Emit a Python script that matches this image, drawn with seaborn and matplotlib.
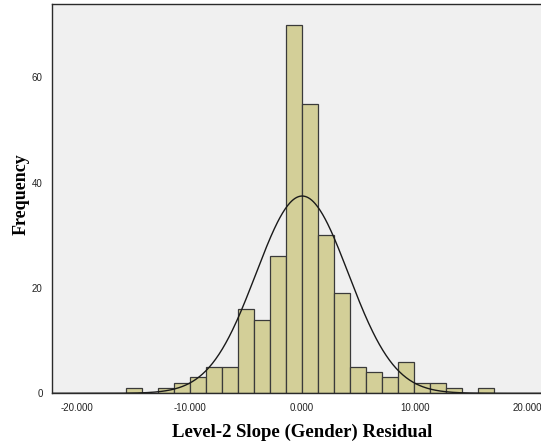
import numpy as np
import pandas as pd
import matplotlib
matplotlib.use("Agg")
import matplotlib.pyplot as plt
import seaborn as sns

# ---- data ----
bin_width = 1.42
first_bin_index = -11
counts = [1, 0, 1, 2, 3, 5, 5, 16, 14, 26, 70, 55, 30, 19, 5, 4, 3, 6, 2, 2, 1, 0, 1]
fit_mean = 0.0
fit_sd = 4.1
x_ticks = [-20, -10, 0, 10, 20]
y_ticks = [0, 20, 40, 60]
x_label = "Level-2 Slope (Gender) Residual"
y_label = "Frequency"

n = sum(counts)
edges = bin_width * (first_bin_index + np.arange(len(counts) + 1))
centers = (edges[:-1] + edges[1:]) / 2
df = pd.DataFrame({"x": centers, "count": counts})

sns.set_style("white")
fig = plt.figure(figsize=(5.41, 4.44), dpi=100)
fig.patch.set_facecolor("white")
ax = fig.add_axes([0.0967, 0.1142, 0.9237, 0.8757])
ax.set_facecolor("#F0F0F0")

sns.histplot(data=df, x="x", weights="count", bins=[float(e) for e in edges], ax=ax,
             color="#D3CF98", alpha=1.0, edgecolor="#3A3A3A", linewidth=0.9)

xs = np.linspace(-22.2, 22.2, 600)
ys = n * bin_width / (fit_sd * np.sqrt(2 * np.pi)) * np.exp(-0.5 * ((xs - fit_mean) / fit_sd) ** 2)
sns.lineplot(x=xs, y=ys, ax=ax, color="#1A1A1A", linewidth=1.0)

ax.set_xlim(-22.17, 22.17)
ax.set_ylim(0, 73.8)
ax.set_xticks(x_ticks)
ax.set_xticklabels([f"{t:.3f}" for t in x_ticks], fontfamily="Liberation Sans", fontsize=7, color="#222222")
ax.set_yticks(y_ticks)
ax.set_yticklabels([str(t) for t in y_ticks], fontfamily="Liberation Sans", fontsize=7, color="#222222")
ax.tick_params(axis="both", direction="out", length=5, width=0.8, color="#444444", pad=2)
for s in ax.spines.values():
    s.set_visible(True)
    s.set_color("#2A2A2A")
    s.set_linewidth(1.0)

ax.set_xlabel(x_label, fontfamily="Liberation Serif", fontweight="bold", fontsize=13.5, labelpad=8, color="black")
ax.set_ylabel(y_label, fontfamily="Liberation Serif", fontweight="bold", fontsize=13, color="black")
ax.yaxis.set_label_coords(-0.045, 0.512)

fig.savefig("out.png", dpi=100)
